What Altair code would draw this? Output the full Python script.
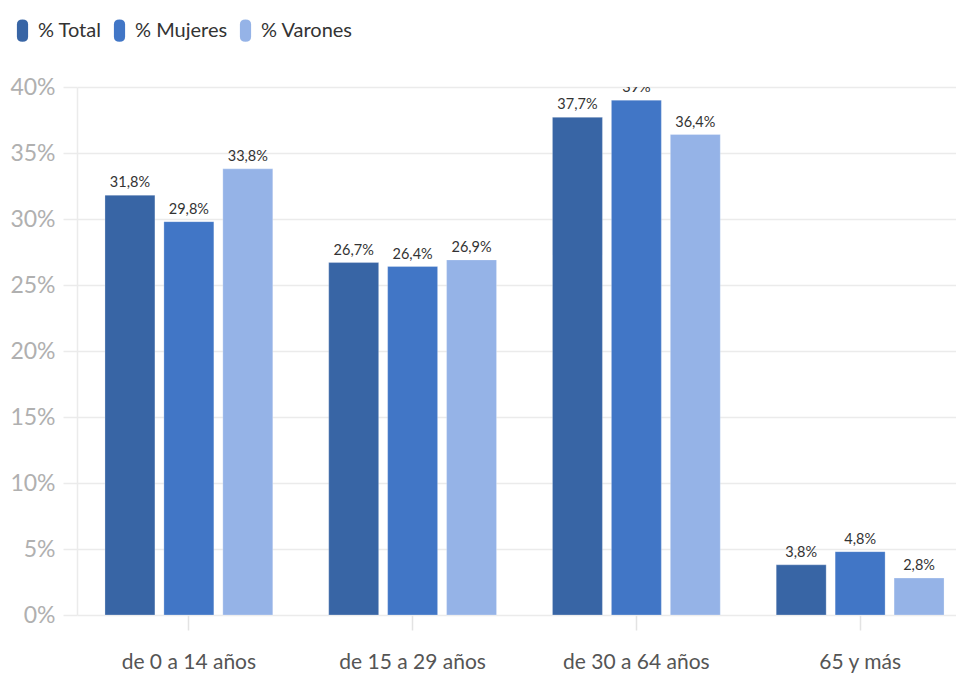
import altair as alt
import pandas as pd

categorias = ["de 0 a 14 años", "de 15 a 29 años", "de 30 a 64 años", "65 y más"]
series = ["% Total", "% Mujeres", "% Varones"]
total = [31.8, 26.7, 37.7, 3.8]
mujeres = [29.8, 26.4, 39.0, 4.8]
varones = [33.8, 26.9, 36.4, 2.8]
colores = ["#3865a5", "#4176c6", "#95b3e7"]
y_ticks = [0, 5, 10, 15, 20, 25, 30, 35, 40]

rows = []
for s, vals in zip(series, [total, mujeres, varones]):
    for c, v in zip(categorias, vals):
        rows.append({"categoria": c, "serie": s, "valor": v})
df = pd.DataFrame(rows)

FONT = "Lato"
legend_shape = "M-0.5,-0.55 Q-0.5,-1 0,-1 Q0.5,-1 0.5,-0.55 L0.5,0.55 Q0.5,1 0,1 Q-0.5,1 -0.5,0.55 Z"

x = alt.X(
    "categoria:N",
    sort=categorias,
    scale=alt.Scale(paddingInner=0.25, paddingOuter=0.125, range=[0, 895]),
    axis=alt.Axis(
        title=None, labelAngle=0, labelFontSize=21, labelColor="#555555",
        labelFont=FONT, labelPadding=21, domain=False, ticks=True,
        tickColor="#e3e3e3", tickSize=15, tickWidth=1.5, grid=False,
    ),
)
xoff = alt.XOffset("serie:N", sort=series, scale=alt.Scale(paddingInner=0.1525, paddingOuter=0))
y = alt.Y(
    "valor:Q",
    scale=alt.Scale(domain=[0, 40], nice=False),
    axis=alt.Axis(
        title=None, values=y_ticks, labelExpr="datum.value + '%'",
        labelFontSize=23, labelColor="#b0b0b0", labelFont=FONT, labelPadding=8,
        grid=True, gridColor="#ebebeb", gridWidth=1.5, tickColor="#ebebeb",
        tickSize=14, tickWidth=1.5, domain=True, domainColor="#ebebeb", domainWidth=1.5,
    ),
)
color = alt.Color(
    "serie:N", sort=series, scale=alt.Scale(domain=series, range=colores),
    legend=alt.Legend(
        title=None, orient="none", legendX=-66, legendY=-68, direction="horizontal",
        symbolType=legend_shape, symbolSize=500, symbolStrokeWidth=0,
        symbolOpacity=1, labelFontSize=20, labelColor="#333333", labelFont=FONT,
        labelOffset=4, columnPadding=6, padding=0,
    ),
)

bars = alt.Chart(df).mark_bar(stroke="white", strokeOpacity=0.25, strokeWidth=1).encode(
    x=x, xOffset=xoff, y=y, color=color
)
labels = alt.Chart(df).transform_calculate(
    etiqueta="(datum.valor % 1 == 0 ? format(datum.valor, 'd') : replace(format(datum.valor, '.1f'), '.', ',')) + '%'"
).mark_text(
    baseline="bottom", dy=-5, fontSize=14.5, color="#333333", font=FONT, clip=True
).encode(x=x, xOffset=xoff, y=y, text="etiqueta:N")

chart = alt.layer(bars, labels).properties(
    width=879, height=528,
    autosize=alt.AutoSizeParams(type="none"),
    padding={"left": 69, "top": 79, "right": 0, "bottom": 59},
).configure_view(stroke=None)

chart.save("out.html", embed_options={"renderer": "svg", "actions": False})
